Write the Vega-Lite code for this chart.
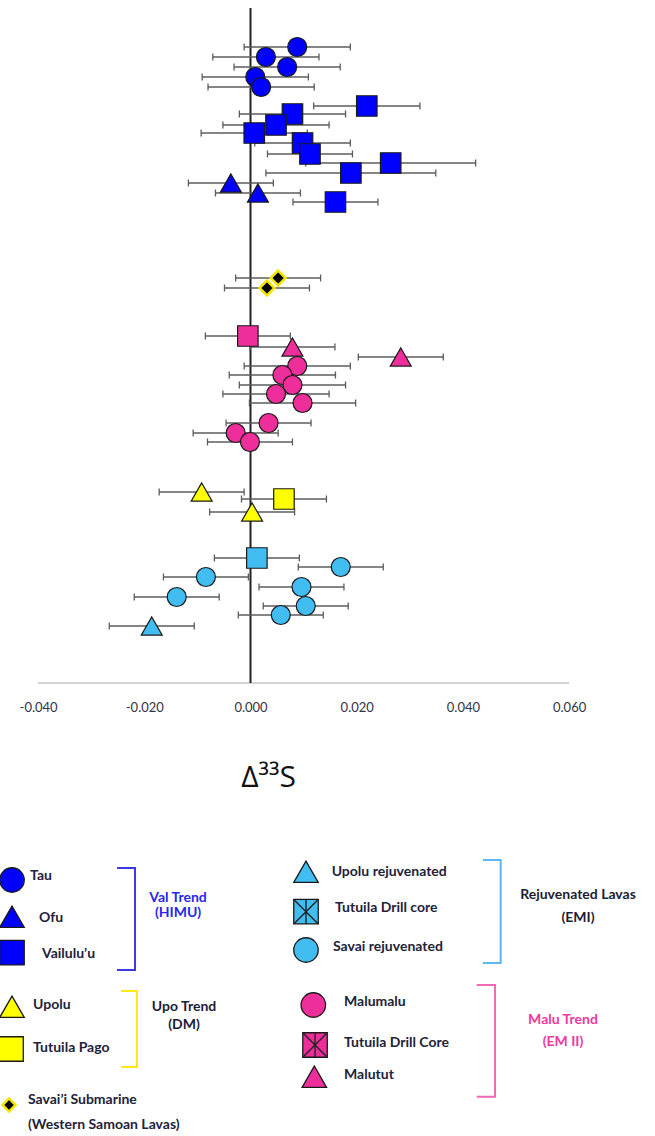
{
  "$schema": "https://vega.github.io/schema/vega-lite/v6.json",
  "width": 655,
  "height": 675,
  "autosize": {"type": "none"},
  "padding": {"left": 0, "top": 8, "right": 0, "bottom": 453},
  "background": "white",
  "config": {"view": {"stroke": null}},
  "data": {
    "values": [
      {"kind": "axis", "lo": -0.04, "hi": 0.06, "level": 0},
      {"kind": "zero", "x": 0, "level": 0, "level2": 67.5},
      {"kind": "sample", "group": "Tau", "x": 0.0088, "lo": -0.0012, "hi": 0.0188, "level": 63.6},
      {"kind": "sample", "group": "Tau", "x": 0.0029, "lo": -0.0071, "hi": 0.0129, "level": 62.6},
      {"kind": "sample", "group": "Tau", "x": 0.0069, "lo": -0.0031, "hi": 0.0169, "level": 61.6},
      {"kind": "sample", "group": "Tau", "x": 0.0009, "lo": -0.0091, "hi": 0.0109, "level": 60.6},
      {"kind": "sample", "group": "Tau", "x": 0.0020, "lo": -0.0080, "hi": 0.0120, "level": 59.6},
      {"kind": "sample", "group": "Vailulu’u", "x": 0.0219, "lo": 0.0119, "hi": 0.0319, "level": 57.7},
      {"kind": "sample", "group": "Vailulu’u", "x": 0.0079, "lo": -0.0021, "hi": 0.0179, "level": 56.9},
      {"kind": "sample", "group": "Vailulu’u", "x": 0.0048, "lo": -0.0052, "hi": 0.0148, "level": 55.8},
      {"kind": "sample", "group": "Vailulu’u", "x": 0.0007, "lo": -0.0093, "hi": 0.0107, "level": 55.0},
      {"kind": "sample", "group": "Vailulu’u", "x": 0.0098, "lo": 0.0008, "hi": 0.0188, "level": 54.0},
      {"kind": "sample", "group": "Vailulu’u", "x": 0.0112, "lo": 0.0032, "hi": 0.0192, "level": 52.9},
      {"kind": "sample", "group": "Vailulu’u", "x": 0.0264, "lo": 0.0104, "hi": 0.0424, "level": 52.0},
      {"kind": "sample", "group": "Vailulu’u", "x": 0.0189, "lo": 0.0029, "hi": 0.0349, "level": 51.0},
      {"kind": "sample", "group": "Vailulu’u", "x": 0.0160, "lo": 0.0080, "hi": 0.0240, "level": 48.1},
      {"kind": "sample", "group": "Ofu", "x": -0.0037, "lo": -0.0117, "hi": 0.0043, "level": 50.0},
      {"kind": "sample", "group": "Ofu", "x": 0.0014, "lo": -0.0066, "hi": 0.0094, "level": 49.0},
      {"kind": "sample", "group": "Savai’i Submarine", "x": 0.0052, "lo": -0.0028, "hi": 0.0132, "level": 40.5},
      {"kind": "sample", "group": "Savai’i Submarine", "x": 0.0031, "lo": -0.0049, "hi": 0.0111, "level": 39.5},
      {"kind": "sample", "group": "Tutuila Drill Core", "x": -0.0005, "lo": -0.0085, "hi": 0.0075, "level": 34.7},
      {"kind": "sample", "group": "Malutut", "x": 0.0079, "lo": -0.0001, "hi": 0.0159, "level": 33.6},
      {"kind": "sample", "group": "Malutut", "x": 0.0283, "lo": 0.0203, "hi": 0.0363, "level": 32.6},
      {"kind": "sample", "group": "Malumalu", "x": 0.0088, "lo": -0.0012, "hi": 0.0188, "level": 31.7},
      {"kind": "sample", "group": "Malumalu", "x": 0.0060, "lo": -0.0040, "hi": 0.0160, "level": 30.8},
      {"kind": "sample", "group": "Malumalu", "x": 0.0079, "lo": -0.0021, "hi": 0.0179, "level": 29.8},
      {"kind": "sample", "group": "Malumalu", "x": 0.0048, "lo": -0.0052, "hi": 0.0148, "level": 28.9},
      {"kind": "sample", "group": "Malumalu", "x": 0.0098, "lo": -0.0002, "hi": 0.0198, "level": 28.0},
      {"kind": "sample", "group": "Malumalu", "x": 0.0034, "lo": -0.0046, "hi": 0.0114, "level": 26.0},
      {"kind": "sample", "group": "Malumalu", "x": -0.0028, "lo": -0.0108, "hi": 0.0052, "level": 25.0},
      {"kind": "sample", "group": "Malumalu", "x": -0.0001, "lo": -0.0081, "hi": 0.0079, "level": 24.1},
      {"kind": "sample", "group": "Upolu", "x": -0.0092, "lo": -0.0172, "hi": -0.0012, "level": 19.1},
      {"kind": "sample", "group": "Tutuila Pago", "x": 0.0063, "lo": -0.0017, "hi": 0.0143, "level": 18.4},
      {"kind": "sample", "group": "Upolu", "x": 0.0003, "lo": -0.0077, "hi": 0.0083, "level": 17.1},
      {"kind": "sample", "group": "Tutuila Drill core", "x": 0.0012, "lo": -0.0068, "hi": 0.0092, "level": 12.5},
      {"kind": "sample", "group": "Savai rejuvenated", "x": 0.0170, "lo": 0.0090, "hi": 0.0250, "level": 11.6},
      {"kind": "sample", "group": "Savai rejuvenated", "x": -0.0084, "lo": -0.0164, "hi": -0.0004, "level": 10.6},
      {"kind": "sample", "group": "Savai rejuvenated", "x": 0.0096, "lo": 0.0016, "hi": 0.0176, "level": 9.6},
      {"kind": "sample", "group": "Savai rejuvenated", "x": -0.0139, "lo": -0.0219, "hi": -0.0059, "level": 8.6},
      {"kind": "sample", "group": "Savai rejuvenated", "x": 0.0104, "lo": 0.0024, "hi": 0.0184, "level": 7.7},
      {"kind": "sample", "group": "Savai rejuvenated", "x": 0.0057, "lo": -0.0023, "hi": 0.0137, "level": 6.8},
      {"kind": "sample", "group": "Upolu rejuvenated", "x": -0.0186, "lo": -0.0266, "hi": -0.0106, "level": 5.7},
      {"kind": "key", "group": "Tau", "x": -0.04492, "level": -19.7},
      {"kind": "key", "group": "Ofu", "x": -0.04492, "level": -23.37},
      {"kind": "key", "group": "Vailulu’u", "x": -0.04492, "level": -26.97},
      {"kind": "key", "group": "Upolu", "x": -0.04492, "level": -32.37},
      {"kind": "key", "group": "Tutuila Pago", "x": -0.04510, "level": -36.6},
      {"kind": "key", "group": "Savai’i Submarine", "x": -0.04548, "level": -42.2},
      {"kind": "key", "group": "Upolu rejuvenated", "x": 0.01045, "level": -18.87},
      {"kind": "key", "group": "Tutuila Drill core", "x": 0.01045, "level": -22.87},
      {"kind": "key", "group": "Savai rejuvenated", "x": 0.01045, "level": -26.7},
      {"kind": "key", "group": "Malumalu", "x": 0.01183, "level": -32.2},
      {"kind": "key", "group": "Tutuila Drill Core", "x": 0.01215, "level": -36.2},
      {"kind": "key", "group": "Malutut", "x": 0.01202, "level": -39.37},
      {"kind": "label", "text": "Tau", "x": -0.041525, "level": -19.3},
      {"kind": "label", "text": "Ofu", "x": -0.039831, "level": -23.5},
      {"kind": "label", "text": "Vailulu’u", "x": -0.039266, "level": -27.1},
      {"kind": "label", "text": "Upolu", "x": -0.04096, "level": -32.2},
      {"kind": "label", "text": "Tutuila Pago", "x": -0.04096, "level": -36.5},
      {"kind": "label", "text": "Savai’i Submarine", "x": -0.041902, "level": -41.7},
      {"kind": "label", "text": "(Western Samoan Lavas)", "x": -0.041902, "level": -44.2},
      {"kind": "label", "text": "Upolu rejuvenated", "x": 0.015292, "level": -18.87},
      {"kind": "label", "text": "Tutuila Drill core", "x": 0.015913, "level": -22.5},
      {"kind": "label", "text": "Savai rejuvenated", "x": 0.015537, "level": -26.37},
      {"kind": "label", "text": "Malumalu", "x": 0.017608, "level": -31.87},
      {"kind": "label", "text": "Tutuila Drill Core", "x": 0.017608, "level": -36.0},
      {"kind": "label", "text": "Malutut", "x": 0.017608, "level": -39.2},
      {"kind": "trendLabel", "trend": "Val", "text": "Val Trend", "x": -0.013653, "level": -21.5},
      {"kind": "trendLabel", "trend": "Val", "text": "(HIMU)", "x": -0.013653, "level": -23.0},
      {"kind": "trendLabel", "trend": "Upo", "text": "Upo Trend", "x": -0.012524, "level": -32.4},
      {"kind": "trendLabel", "trend": "Upo", "text": "(DM)", "x": -0.012524, "level": -34.2},
      {"kind": "trendLabel", "trend": "Rej", "text": "Rejuvenated Lavas", "x": 0.061676, "level": -21.2},
      {"kind": "trendLabel", "trend": "Rej", "text": "(EMI)", "x": 0.061676, "level": -23.5},
      {"kind": "trendLabel", "trend": "Malu", "text": "Malu Trend", "x": 0.058851, "level": -33.7},
      {"kind": "trendLabel", "trend": "Malu", "text": "(EM II)", "x": 0.058851, "level": -35.87},
      {"kind": "bracket", "trend": "Val", "i": 0, "x": -0.025141, "level": -18.5},
      {"kind": "bracket", "trend": "Val", "i": 1, "x": -0.021751, "level": -18.5},
      {"kind": "bracket", "trend": "Val", "i": 2, "x": -0.021751, "level": -28.7},
      {"kind": "bracket", "trend": "Val", "i": 3, "x": -0.025141, "level": -28.7},
      {"kind": "bracket", "trend": "Upo", "i": 0, "x": -0.024388, "level": -30.8},
      {"kind": "bracket", "trend": "Upo", "i": 1, "x": -0.021375, "level": -30.8},
      {"kind": "bracket", "trend": "Upo", "i": 2, "x": -0.021375, "level": -38.4},
      {"kind": "bracket", "trend": "Upo", "i": 3, "x": -0.024388, "level": -38.4},
      {"kind": "bracket", "trend": "Rej", "i": 0, "x": 0.043785, "level": -17.7},
      {"kind": "bracket", "trend": "Rej", "i": 1, "x": 0.047119, "level": -17.7},
      {"kind": "bracket", "trend": "Rej", "i": 2, "x": 0.047119, "level": -28.0},
      {"kind": "bracket", "trend": "Rej", "i": 3, "x": 0.043785, "level": -28.0},
      {"kind": "bracket", "trend": "Malu", "i": 0, "x": 0.042599, "level": -30.2},
      {"kind": "bracket", "trend": "Malu", "i": 1, "x": 0.046045, "level": -30.2},
      {"kind": "bracket", "trend": "Malu", "i": 2, "x": 0.046045, "level": -41.37},
      {"kind": "bracket", "trend": "Malu", "i": 3, "x": 0.042599, "level": -41.37}
    ]
  },
  "layer": [
    {
      "transform": [{"filter": {"field": "kind", "equal": "axis"}}],
      "mark": {"type": "rule", "color": "#c4c4c4", "strokeWidth": 1.5},
      "encoding": {
        "x": {"field": "lo", "type": "quantitative"},
        "x2": {"field": "hi"},
        "y": {"field": "level", "type": "quantitative", "axis": null}
      }
    },
    {
      "transform": [{"filter": {"field": "kind", "equal": "zero"}}],
      "mark": {"type": "rule", "color": "#222222", "strokeWidth": 2},
      "encoding": {
        "x": {"field": "x", "type": "quantitative"},
        "y": {"field": "level", "type": "quantitative", "axis": null},
        "y2": {"field": "level2"}
      }
    },
    {
      "transform": [{"filter": {"field": "kind", "equal": "sample"}}],
      "mark": {"type": "rule", "color": "#5c5c5c", "strokeWidth": 1.3},
      "encoding": {
        "x": {"field": "lo", "type": "quantitative", "scale": {"domain": [-0.04718, 0.07618], "nice": false, "zero": false},
          "axis": {
            "title": "Δ³³S", "values": [-0.04, -0.02, 0, 0.02, 0.04, 0.06],
            "labelExpr": "replace(format(datum.value, '.3f'), '−', '-')",
            "domain": false, "ticks": false, "grid": false,
            "labelFont": "Lato", "labelFontSize": 13, "labelColor": "#333344", "labelPadding": 18,
            "titleFont": "Open Sans", "titleFontSize": 30, "titleFontWeight": "normal", "titleColor": "#111111",
            "titlePadding": 48, "titleX": 268, "titleAlign": "center"
          }},
        "x2": {"field": "hi"},
        "y": {"field": "level", "type": "quantitative", "scale": {"domain": [0, 67.5], "nice": false, "zero": false}, "axis": null}
      }
    },
    {
      "transform": [{"filter": {"field": "kind", "equal": "sample"}}],
      "mark": {"type": "point", "shape": "M0,-1L0,1", "size": 49, "filled": false, "stroke": "#5c5c5c", "strokeWidth": 1.3, "opacity": 1},
      "encoding": {
        "x": {"field": "lo", "type": "quantitative"},
        "y": {"field": "level", "type": "quantitative", "axis": null}
      }
    },
    {
      "transform": [{"filter": {"field": "kind", "equal": "sample"}}],
      "mark": {"type": "point", "shape": "M0,-1L0,1", "size": 49, "filled": false, "stroke": "#5c5c5c", "strokeWidth": 1.3, "opacity": 1},
      "encoding": {
        "x": {"field": "hi", "type": "quantitative"},
        "y": {"field": "level", "type": "quantitative", "axis": null}
      }
    },
    {
      "transform": [
        {"filter": {"field": "kind", "equal": "sample"}},
        {"filter": {"field": "group", "oneOf": ["Tau", "Malumalu", "Savai rejuvenated"]}}
      ],
      "mark": {"type": "point", "shape": "circle", "size": 360, "filled": true, "opacity": 1, "stroke": "#1a1a1a", "strokeWidth": 1.2},
      "encoding": {
        "x": {"field": "x", "type": "quantitative"},
        "y": {"field": "level", "type": "quantitative", "axis": null},
        "fill": {"field": "group", "type": "nominal", "legend": null, "scale": {
          "domain": ["Tau", "Ofu", "Vailulu’u", "Tutuila Drill Core", "Malutut", "Malumalu", "Upolu", "Tutuila Pago", "Tutuila Drill core", "Savai rejuvenated", "Upolu rejuvenated"],
          "range": ["#0000ff", "#0000ff", "#0000ff", "#ee2e9a", "#ee2e9a", "#ee2e9a", "#ffff00", "#ffff00", "#42bdf2", "#42bdf2", "#42bdf2"]}}
      }
    },
    {
      "transform": [
        {"filter": {"field": "kind", "equal": "sample"}},
        {"filter": {"field": "group", "oneOf": ["Vailulu’u", "Tutuila Drill Core", "Tutuila Pago", "Tutuila Drill core"]}}
      ],
      "mark": {"type": "point", "shape": "square", "size": 420, "filled": true, "opacity": 1, "stroke": "#1a1a1a", "strokeWidth": 1.2},
      "encoding": {
        "x": {"field": "x", "type": "quantitative"},
        "y": {"field": "level", "type": "quantitative", "axis": null},
        "fill": {"field": "group", "type": "nominal", "legend": null}
      }
    },
    {
      "transform": [
        {"filter": {"field": "kind", "equal": "sample"}},
        {"filter": {"field": "group", "oneOf": ["Ofu", "Malutut", "Upolu", "Upolu rejuvenated"]}}
      ],
      "mark": {"type": "point", "shape": "triangle-up", "size": 440, "filled": true, "opacity": 1, "stroke": "#1a1a1a", "strokeWidth": 1.2},
      "encoding": {
        "x": {"field": "x", "type": "quantitative"},
        "y": {"field": "level", "type": "quantitative", "axis": null},
        "fill": {"field": "group", "type": "nominal", "legend": null}
      }
    },
    {
      "transform": [
        {"filter": {"field": "kind", "equal": "sample"}},
        {"filter": {"field": "group", "equal": "Savai’i Submarine"}}
      ],
      "mark": {"type": "point", "shape": "diamond", "size": 220, "filled": true, "fill": "#000000", "stroke": "#f2e600", "strokeWidth": 2.5, "opacity": 1},
      "encoding": {
        "x": {"field": "x", "type": "quantitative"},
        "y": {"field": "level", "type": "quantitative", "axis": null}
      }
    },
    {
      "transform": [{"filter": {"field": "kind", "equal": "bracket"}}],
      "mark": {"type": "line", "strokeWidth": 2},
      "encoding": {
        "x": {"field": "x", "type": "quantitative"},
        "y": {"field": "level", "type": "quantitative", "axis": null},
        "order": {"field": "i", "type": "quantitative"},
        "color": {"field": "trend", "type": "nominal", "legend": null, "scale": {
          "domain": ["Val", "Upo", "Rej", "Malu"],
          "range": ["#3a3ae0", "#ffe81a", "#5bb8f0", "#f26ab5"]}}
      }
    },
    {
      "transform": [
        {"filter": {"field": "kind", "equal": "key"}},
        {"filter": {"not": {"field": "group", "equal": "Savai’i Submarine"}}}
      ],
      "mark": {"type": "point", "filled": true, "opacity": 1, "size": 600, "stroke": "#1a1a1a", "strokeWidth": 1.3},
      "encoding": {
        "x": {"field": "x", "type": "quantitative"},
        "y": {"field": "level", "type": "quantitative", "axis": null},
        "fill": {"field": "group", "type": "nominal", "legend": null},
        "shape": {"field": "group", "type": "nominal", "legend": null, "scale": {
          "domain": ["Tau", "Ofu", "Vailulu’u", "Tutuila Drill Core", "Malutut", "Malumalu", "Upolu", "Tutuila Pago", "Tutuila Drill core", "Savai rejuvenated", "Upolu rejuvenated"],
          "range": ["circle", "triangle-up", "square", "square", "triangle-up", "circle", "triangle-up", "square", "square", "circle", "triangle-up"]}}
      }
    },
    {
      "transform": [
        {"filter": {"field": "kind", "equal": "key"}},
        {"filter": {"field": "group", "equal": "Savai’i Submarine"}}
      ],
      "mark": {"type": "point", "shape": "diamond", "size": 170, "filled": true, "fill": "#000000", "stroke": "#f2e600", "strokeWidth": 2.5, "opacity": 1},
      "encoding": {
        "x": {"field": "x", "type": "quantitative"},
        "y": {"field": "level", "type": "quantitative", "axis": null}
      }
    },
    {
      "transform": [
        {"filter": {"field": "kind", "equal": "key"}},
        {"filter": {"field": "group", "oneOf": ["Tutuila Drill Core", "Tutuila Drill core"]}}
      ],
      "mark": {"type": "point", "filled": false, "shape": "M-1,-1L1,1M1,-1L-1,1M0,-1L0,1", "size": 600, "stroke": "#222222", "strokeWidth": 1.4, "opacity": 1},
      "encoding": {
        "x": {"field": "x", "type": "quantitative"},
        "y": {"field": "level", "type": "quantitative", "axis": null}
      }
    },
    {
      "transform": [{"filter": {"field": "kind", "equal": "label"}}],
      "mark": {"type": "text", "align": "left", "baseline": "middle", "font": "Lato", "fontSize": 14, "fontWeight": "bold", "color": "#22223a"},
      "encoding": {
        "x": {"field": "x", "type": "quantitative"},
        "y": {"field": "level", "type": "quantitative", "axis": null},
        "text": {"field": "text"}
      }
    },
    {
      "transform": [
        {"filter": {"field": "kind", "equal": "trendLabel"}},
        {"filter": {"field": "trend", "equal": "Val"}}
      ],
      "mark": {"type": "text", "align": "center", "baseline": "middle", "font": "Lato", "fontSize": 14, "fontWeight": "bold", "color": "#2626ee"},
      "encoding": {
        "x": {"field": "x", "type": "quantitative"},
        "y": {"field": "level", "type": "quantitative", "axis": null},
        "text": {"field": "text"}
      }
    },
    {
      "transform": [
        {"filter": {"field": "kind", "equal": "trendLabel"}},
        {"filter": {"field": "trend", "oneOf": ["Upo", "Rej"]}}
      ],
      "mark": {"type": "text", "align": "center", "baseline": "middle", "font": "Lato", "fontSize": 14, "fontWeight": "bold", "color": "#1c1c33"},
      "encoding": {
        "x": {"field": "x", "type": "quantitative"},
        "y": {"field": "level", "type": "quantitative", "axis": null},
        "text": {"field": "text"}
      }
    },
    {
      "transform": [
        {"filter": {"field": "kind", "equal": "trendLabel"}},
        {"filter": {"field": "trend", "equal": "Malu"}}
      ],
      "mark": {"type": "text", "align": "center", "baseline": "middle", "font": "Lato", "fontSize": 14, "fontWeight": "bold", "color": "#f0389e"},
      "encoding": {
        "x": {"field": "x", "type": "quantitative"},
        "y": {"field": "level", "type": "quantitative", "axis": null},
        "text": {"field": "text"}
      }
    }
  ]
}
